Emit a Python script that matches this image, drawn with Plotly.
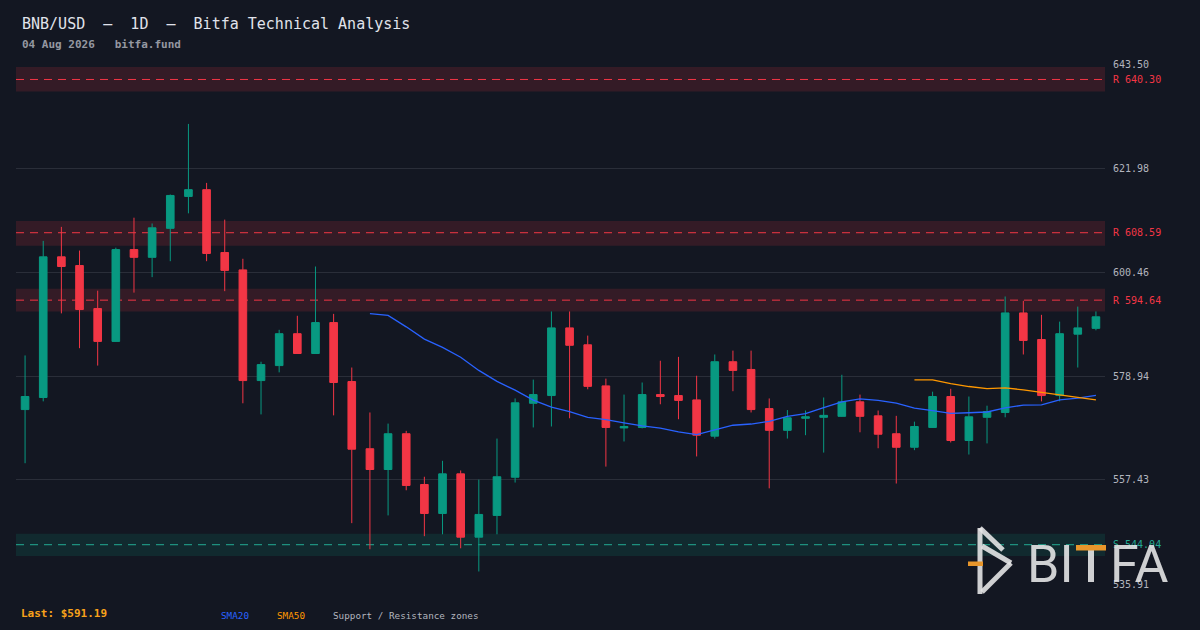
import plotly.graph_objects as go

# ---------------- data ----------------
dates = [
    "2026-06-06", "2026-06-07", "2026-06-08", "2026-06-09", "2026-06-10", "2026-06-11",
    "2026-06-12", "2026-06-13", "2026-06-14", "2026-06-15", "2026-06-16", "2026-06-17",
    "2026-06-18", "2026-06-19", "2026-06-20", "2026-06-21", "2026-06-22", "2026-06-23",
    "2026-06-24", "2026-06-25", "2026-06-26", "2026-06-27", "2026-06-28", "2026-06-29",
    "2026-06-30", "2026-07-01", "2026-07-02", "2026-07-03", "2026-07-04", "2026-07-05",
    "2026-07-06", "2026-07-07", "2026-07-08", "2026-07-09", "2026-07-10", "2026-07-11",
    "2026-07-12", "2026-07-13", "2026-07-14", "2026-07-15", "2026-07-16", "2026-07-17",
    "2026-07-18", "2026-07-19", "2026-07-20", "2026-07-21", "2026-07-22", "2026-07-23",
    "2026-07-24", "2026-07-25", "2026-07-26", "2026-07-27", "2026-07-28", "2026-07-29",
    "2026-07-30", "2026-07-31", "2026-08-01", "2026-08-02", "2026-08-03", "2026-08-04",
]

open_ = [572.0, 574.5, 603.6, 601.8, 592.9, 586.1, 605.1, 603.5, 609.5, 616.1,
         617.5, 604.5, 600.9, 578.0, 581.1, 587.7, 583.6, 590.0, 577.8, 563.9,
         559.6, 567.0, 556.5, 550.5, 558.7, 545.6, 550.1, 558.0, 573.3, 574.9,
         588.9, 585.4, 576.9, 568.2, 568.3, 575.1, 574.9, 574.0, 566.5, 581.9,
         580.3, 572.2, 567.7, 570.2, 570.4, 570.6, 573.6, 570.7, 567.0, 564.2,
         568.3, 574.7, 565.6, 570.4, 571.4, 592.0, 586.5, 574.9, 587.6, 588.8]
high = [583.2, 606.9, 609.8, 604.9, 596.6, 605.5, 611.7, 610.5, 616.5, 631.1,
        618.9, 611.3, 603.2, 581.9, 588.5, 591.4, 601.6, 591.8, 580.7, 571.4,
        569.1, 567.6, 558.1, 561.4, 559.4, 557.5, 566.0, 574.3, 578.2, 592.3,
        592.3, 587.3, 578.4, 575.1, 577.6, 582.1, 582.9, 579.0, 583.4, 584.2,
        584.2, 574.3, 571.9, 571.8, 574.5, 579.2, 575.1, 571.8, 570.7, 569.5,
        575.7, 576.3, 574.7, 572.8, 595.4, 594.5, 591.6, 590.2, 593.3, 592.3]
low = [560.9, 573.7, 591.9, 584.7, 581.1, 586.0, 596.2, 599.4, 602.7, 612.6,
       602.7, 596.5, 573.3, 571.0, 579.7, 583.5, 583.5, 570.8, 548.5, 543.1,
       550.1, 555.3, 545.8, 546.2, 543.3, 538.5, 546.2, 556.9, 568.3, 568.5,
       570.2, 576.2, 560.2, 565.4, 568.1, 573.1, 570.0, 562.3, 566.0, 575.8,
       571.4, 555.7, 566.0, 566.7, 563.1, 570.5, 567.3, 564.0, 556.7, 563.6,
       568.2, 565.2, 562.7, 565.0, 570.4, 583.4, 573.7, 573.7, 580.7, 588.4]
close = [574.7, 603.6, 601.6, 592.7, 586.1, 605.1, 603.5, 609.6, 616.3, 617.5,
         604.3, 600.8, 578.0, 581.3, 587.7, 583.6, 590.0, 577.6, 563.8, 559.6,
         567.0, 556.3, 550.5, 558.7, 545.6, 550.3, 558.1, 573.4, 575.1, 588.9,
         585.3, 576.8, 568.3, 568.5, 575.1, 574.7, 573.9, 566.7, 581.9, 580.1,
         572.0, 567.7, 570.3, 570.5, 570.8, 573.6, 570.6, 566.9, 564.2, 568.5,
         574.7, 565.6, 570.5, 571.6, 592.0, 586.3, 574.9, 587.7, 588.9, 591.19]

# SMA20 values (from 20th candle on) and SMA50 values (from 50th candle on)
sma20 = [591.87, 591.49, 589.12, 586.57, 584.87, 582.84, 580.10, 577.83, 576.02, 573.96,
         572.53, 571.58, 570.38, 569.90, 569.26, 568.63, 568.18, 567.38, 566.83, 567.74,
         568.76, 569.01, 569.58, 570.57, 571.16, 572.42, 573.59, 574.21, 573.89, 573.34,
         572.32, 571.79, 571.23, 571.34, 571.50, 572.34, 572.92, 572.97, 574.02, 574.37,
         574.92]
sma50 = [578.15, 578.15, 577.39, 576.77, 576.35, 576.47, 576.09, 575.52, 575.08, 574.53,
         574.01]

# support / resistance zones
zone_labels = ["R 640.30", "R 608.59", "R 594.64", "S 544.04"]
zone_levels = [640.30, 608.59, 594.64, 544.04]
zone_low = [637.8, 605.9, 592.3, 541.7]
zone_high = [642.9, 611.0, 597.0, 546.3]
zone_kind = ["R", "R", "R", "S"]

# price axis ticks
tick_vals = [535.91, 557.43, 578.94, 600.46, 621.98, 643.50]
tick_text = ["535.91", "557.43", "578.94", "600.46", "621.98", "643.50"]

title_text = "BNB/USD  \u2014  1D  \u2014  Bitfa Technical Analysis"
subtitle_text = "04 Aug 2026   bitfa.fund"
last_text = "Last: $591.19"

# ---------------- style ----------------
BG = "#131722"
GREEN = "#089981"
RED = "#f23645"
BLUE = "#2962ff"
ORANGE = "#ff9800"
MONO = "DejaVu Sans Mono"

W, H = 1200, 630
ML, MR, MT, MB = 16, 95, 64, 46
PW = W - ML - MR
PH = H - MT - MB


def px(x):
    return (x - ML) / PW


def py(y):
    return (H - MB - y) / PH


fig = go.Figure()

fig.add_trace(go.Candlestick(
    x=dates, open=open_, high=high, low=low, close=close,
    increasing=dict(line=dict(color=GREEN, width=1), fillcolor=GREEN),
    decreasing=dict(line=dict(color=RED, width=1), fillcolor=RED),
    whiskerwidth=0, showlegend=False, hoverinfo="skip",
))

fig.add_trace(go.Scatter(
    x=dates[len(dates) - len(sma20):], y=sma20, mode="lines",
    line=dict(color=BLUE, width=1.3), showlegend=False, hoverinfo="skip",
))
fig.add_trace(go.Scatter(
    x=dates[len(dates) - len(sma50):], y=sma50, mode="lines",
    line=dict(color=ORANGE, width=1.3), showlegend=False, hoverinfo="skip",
))

shapes = []
annotations = []
for lab, lvl, lo, hi, kind in zip(zone_labels, zone_levels, zone_low, zone_high, zone_kind):
    fill = "rgba(242,54,69,0.15)" if kind == "R" else "rgba(8,153,129,0.15)"
    lc = RED if kind == "R" else "#22ab94"
    shapes.append(dict(type="rect", xref="paper", yref="y", x0=0, x1=1, y0=lo, y1=hi,
                       fillcolor=fill, line=dict(width=0), layer="below"))
    shapes.append(dict(type="line", xref="paper", yref="y", x0=0, x1=1, y0=lvl, y1=lvl,
                       line=dict(color=lc, width=1, dash="8px,6px"), layer="below"))
    annotations.append(dict(xref="paper", yref="y", x=px(1111), y=lvl, text=lab,
                            showarrow=False, xanchor="left", yanchor="middle",
                            font=dict(family=MONO, size=10, color=lc)))

# title block
annotations.append(dict(xref="paper", yref="paper", x=px(20), y=py(24), text=title_text,
                        showarrow=False, xanchor="left", yanchor="middle",
                        font=dict(family=MONO, size=15, color="#e0e3eb")))
annotations.append(dict(xref="paper", yref="paper", x=px(20), y=py(45), text="<b>" + subtitle_text + "</b>",
                        showarrow=False, xanchor="left", yanchor="middle",
                        font=dict(family=MONO, size=11, color="#9598a1")))

# footer
annotations.append(dict(xref="paper", yref="paper", x=px(19), y=py(613), text="<b>" + last_text + "</b>",
                        showarrow=False, xanchor="left", yanchor="middle",
                        font=dict(family=MONO, size=11, color="#f7a21b")))
annotations.append(dict(xref="paper", yref="paper", x=px(219), y=py(615), text="SMA20",
                        showarrow=False, xanchor="left", yanchor="middle",
                        font=dict(family=MONO, size=9.3, color=BLUE)))
annotations.append(dict(xref="paper", yref="paper", x=px(275), y=py(615), text="SMA50",
                        showarrow=False, xanchor="left", yanchor="middle",
                        font=dict(family=MONO, size=9.3, color=ORANGE)))
annotations.append(dict(xref="paper", yref="paper", x=px(331), y=py(615),
                        text="Support / Resistance zones",
                        showarrow=False, xanchor="left", yanchor="middle",
                        font=dict(family=MONO, size=9.3, color="#b2b5be")))

# watermark logo
LOGO = "rgba(228,228,230,0.9)"
shapes.append(dict(type="line", xref="paper", yref="paper", x0=px(980), y0=py(528), x1=px(980), y1=py(594),
                   line=dict(color=LOGO, width=5), layer="above"))
shapes.append(dict(type="line", xref="paper", yref="paper", x0=px(980), y0=py(528), x1=px(1003), y1=py(550),
                   line=dict(color=LOGO, width=5), layer="above"))
shapes.append(dict(type="line", xref="paper", yref="paper", x0=px(982), y0=py(546), x1=px(1011), y1=py(563),
                   line=dict(color=LOGO, width=5), layer="above"))
shapes.append(dict(type="line", xref="paper", yref="paper", x0=px(1011), y0=py(563), x1=px(982), y1=py(592),
                   line=dict(color=LOGO, width=5), layer="above"))
shapes.append(dict(type="rect", xref="paper", yref="paper", x0=px(968), y0=py(566), x1=px(983), y1=py(561.5),
                   fillcolor="#e8962b", line=dict(width=0), layer="above"))
# letters
annotations.append(dict(xref="paper", yref="paper", x=px(1025), y=py(564), text="BI",
                        showarrow=False, xanchor="left", yanchor="middle",
                        font=dict(family="Roboto", size=52, color=LOGO)))
shapes.append(dict(type="rect", xref="paper", yref="paper", x0=px(1088), y0=py(582), x1=px(1094), y1=py(548),
                   fillcolor=LOGO, line=dict(width=0), layer="above"))
shapes.append(dict(type="rect", xref="paper", yref="paper", x0=px(1076), y0=py(550.5), x1=px(1106), y1=py(545),
                   fillcolor="#e8962b", line=dict(width=0), layer="above"))
annotations.append(dict(xref="paper", yref="paper", x=px(1108), y=py(564), text="FA",
                        showarrow=False, xanchor="left", yanchor="middle",
                        font=dict(family="Roboto", size=52, color=LOGO)))

fig.update_layout(
    width=W, height=H,
    margin=dict(l=ML, r=MR, t=MT, b=MB),
    paper_bgcolor=BG, plot_bgcolor=BG,
    showlegend=False,
    boxgap=0.4,
    shapes=shapes,
    annotations=annotations,
    xaxis=dict(type="category", rangeslider=dict(visible=False), showgrid=False,
               showticklabels=False, ticks="", zeroline=False, showline=False,
               range=[-0.5, len(dates) - 0.5]),
    yaxis=dict(side="right", range=[tick_vals[0], tick_vals[-1]], tickvals=tick_vals,
               ticktext=tick_text, showgrid=True, gridcolor="#2a2e39", gridwidth=1,
               zeroline=False, showline=False, ticks="", ticklabelstandoff=7,
               tickfont=dict(family=MONO, size=10, color="#b2b5be")),
)

fig.write_html(
    "out.html",
    config={"displayModeBar": False, "staticPlot": True},
    post_script="document.body.style.margin='0';document.body.style.background='#131722';",
)
